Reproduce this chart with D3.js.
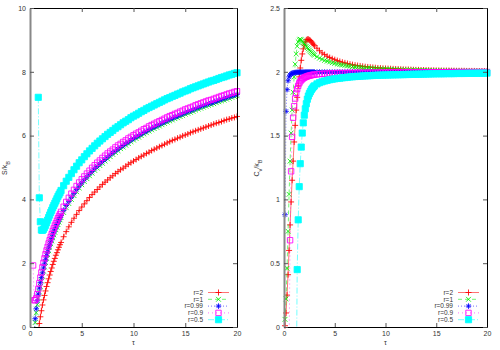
<!DOCTYPE html>
<html>
<head>
<meta charset="utf-8">
<script src="https://cdn.jsdelivr.net/npm/d3@7"></script>
<style>
body { margin: 0; background: #fff; }
text { font-family: "Liberation Sans", Arial, sans-serif; }
</style>
</head>
<body>
<svg id="chart" width="500" height="350"></svg>
<script>
// temperature grid shared by every series
const tau = [
    0.1, 0.2, 0.3, 0.4, 0.5, 0.6, 0.7, 0.8, 0.9, 1.0,
    1.1, 1.2, 1.3, 1.4, 1.5, 1.6, 1.7, 1.8, 1.9, 2.0,
    2.1, 2.2, 2.3, 2.4, 2.5, 2.6, 2.7, 2.8, 2.9, 3.0,
    3.25, 3.5, 3.75, 4, 4.25, 4.5, 4.75, 5, 5.25, 5.5,
    5.75, 6, 6.25, 6.5, 6.75, 7, 7.25, 7.5, 7.75, 8,
    8.25, 8.5, 8.75, 9, 9.25, 9.5, 9.75, 10,
    10.25, 10.5, 10.75, 11, 11.25, 11.5, 11.75, 12, 12.25, 12.5,
    12.75, 13, 13.25, 13.5, 13.75, 14, 14.25, 14.5, 14.75, 15,
    15.25, 15.5, 15.75, 16, 16.25, 16.5, 16.75, 17, 17.25, 17.5,
    17.75, 18, 18.25, 18.5, 18.75, 19, 19.25, 19.5, 19.75, 20
];

// entropy S/kB
const sR2 = [
    null, null, null, null, null, null, null, -0.13, 0.11, 0.32,
    0.51, 0.69, 0.85, 0.99, 1.13, 1.27, 1.39, 1.51, 1.63, 1.74,
    1.85, 1.96, 2.06, 2.15, 2.25, 2.33, 2.42, 2.50, 2.58, 2.65,
    2.83, 2.99, 3.14, 3.28, 3.41, 3.53, 3.65, 3.76, 3.86, 3.96,
    4.06, 4.15, 4.23, 4.31, 4.39, 4.47, 4.54, 4.61, 4.68, 4.74,
    4.81, 4.87, 4.93, 4.98, 5.04, 5.10, 5.15, 5.20,
    5.25, 5.30, 5.35, 5.39, 5.44, 5.48, 5.53, 5.57, 5.61, 5.65,
    5.69, 5.73, 5.77, 5.81, 5.85, 5.88, 5.92, 5.95, 5.99, 6.02,
    6.05, 6.09, 6.12, 6.15, 6.18, 6.21, 6.24, 6.27, 6.30, 6.33,
    6.36, 6.39, 6.41, 6.44, 6.47, 6.50, 6.52, 6.55, 6.57, 6.60
];
const sR1 = [
    null, null, null, -0.32, 0.14, 0.45, 0.70, 0.91, 1.10, 1.27,
    1.44, 1.59, 1.75, 1.88, 2.02, 2.15, 2.27, 2.39, 2.50, 2.61,
    2.70, 2.80, 2.89, 2.97, 3.05, 3.13, 3.21, 3.29, 3.36, 3.43,
    3.59, 3.74, 3.87, 4.00, 4.12, 4.24, 4.36, 4.46, 4.56, 4.65,
    4.74, 4.82, 4.91, 4.98, 5.06, 5.13, 5.20, 5.27, 5.34, 5.41,
    5.47, 5.53, 5.59, 5.64, 5.70, 5.75, 5.81, 5.86,
    5.91, 5.95, 6.00, 6.05, 6.09, 6.14, 6.18, 6.22, 6.26, 6.30,
    6.34, 6.38, 6.42, 6.46, 6.49, 6.53, 6.56, 6.60, 6.63, 6.67,
    6.70, 6.73, 6.76, 6.80, 6.83, 6.86, 6.89, 6.92, 6.95, 6.97,
    7.00, 7.03, 7.06, 7.09, 7.11, 7.14, 7.17, 7.20, 7.23, 7.25
];
const sR099 = [
    null, null, null, -0.2, 0.26, 0.57, 0.82, 1.03, 1.22, 1.39,
    1.55, 1.70, 1.85, 1.98, 2.11, 2.24, 2.36, 2.48, 2.58, 2.69,
    2.78, 2.88, 2.97, 3.05, 3.13, 3.21, 3.29, 3.36, 3.43, 3.50,
    3.66, 3.81, 3.94, 4.07, 4.19, 4.31, 4.42, 4.52, 4.62, 4.71,
    4.80, 4.88, 4.97, 5.04, 5.12, 5.19, 5.26, 5.33, 5.40, 5.46,
    5.52, 5.58, 5.64, 5.69, 5.75, 5.80, 5.86, 5.91,
    5.96, 6.00, 6.05, 6.10, 6.14, 6.19, 6.23, 6.27, 6.31, 6.35,
    6.39, 6.43, 6.47, 6.51, 6.54, 6.58, 6.61, 6.65, 6.68, 6.72,
    6.75, 6.78, 6.81, 6.85, 6.88, 6.91, 6.94, 6.97, 7.00, 7.02,
    7.05, 7.08, 7.11, 7.14, 7.16, 7.19, 7.22, 7.24, 7.27, 7.29
];
const sR09 = [
    null, null, 1.93, 0.84, 0.84, 0.90, 1.03, 1.19, 1.37, 1.55,
    1.71, 1.87, 2.01, 2.15, 2.28, 2.40, 2.51, 2.62, 2.72, 2.82,
    2.91, 3.01, 3.09, 3.18, 3.25, 3.33, 3.41, 3.48, 3.54, 3.61,
    3.77, 3.92, 4.05, 4.18, 4.30, 4.42, 4.53, 4.63, 4.72, 4.81,
    4.90, 4.99, 5.07, 5.15, 5.22, 5.30, 5.37, 5.44, 5.50, 5.56,
    5.63, 5.69, 5.74, 5.80, 5.85, 5.91, 5.96, 6.01,
    6.06, 6.10, 6.15, 6.20, 6.24, 6.29, 6.33, 6.37, 6.41, 6.45,
    6.49, 6.53, 6.57, 6.61, 6.64, 6.68, 6.71, 6.75, 6.78, 6.82,
    6.85, 6.88, 6.91, 6.95, 6.98, 7.01, 7.04, 7.07, 7.10, 7.12,
    7.15, 7.18, 7.21, 7.24, 7.26, 7.29, 7.32, 7.34, 7.37, 7.39
];
const sR05 = [
    null, null, null, null, null, null, null, 7.2, 4.05, 3.3,
    3.04, 3.03, 3.06, 3.12, 3.19, 3.27, 3.35, 3.43, 3.51, 3.59,
    3.66, 3.74, 3.81, 3.88, 3.95, 4.02, 4.09, 4.15, 4.21, 4.28,
    4.43, 4.57, 4.69, 4.81, 4.93, 5.04, 5.15, 5.24, 5.34, 5.43,
    5.52, 5.60, 5.68, 5.76, 5.83, 5.90, 5.97, 6.04, 6.10, 6.16,
    6.23, 6.28, 6.34, 6.40, 6.45, 6.50, 6.56, 6.61,
    6.65, 6.70, 6.75, 6.79, 6.84, 6.88, 6.92, 6.96, 7.00, 7.04,
    7.08, 7.12, 7.16, 7.19, 7.23, 7.26, 7.30, 7.33, 7.37, 7.40,
    7.43, 7.47, 7.50, 7.53, 7.56, 7.59, 7.62, 7.65, 7.68, 7.71,
    7.73, 7.76, 7.79, 7.82, 7.84, 7.87, 7.90, 7.92, 7.95, 7.97
];

// heat capacity Cv/kB
const cR2 = [
    0.01, 0.11, 0.25, 0.41, 0.6, 0.8, 0.98, 1.15, 1.3, 1.45,
    1.58, 1.7, 1.8, 1.89, 1.96, 2.03, 2.09, 2.14, 2.18, 2.21,
    2.235, 2.25, 2.255, 2.255, 2.25, 2.245, 2.235, 2.225, 2.215, 2.205,
    2.185, 2.165, 2.148, 2.135, 2.122, 2.112, 2.103, 2.095, 2.088, 2.081,
    2.075, 2.07, 2.065, 2.06, 2.056, 2.052, 2.049, 2.046, 2.043, 2.04,
    2.038, 2.036, 2.034, 2.032, 2.03, 2.029, 2.027, 2.026,
    2.025, 2.024, 2.023, 2.022, 2.021, 2.02, 2.019, 2.018, 2.018, 2.017,
    2.016, 2.015, 2.015, 2.014, 2.014, 2.013, 2.013, 2.012, 2.012, 2.011,
    2.011, 2.01, 2.01, 2.01, 2.01, 2.009, 2.009, 2.008, 2.008, 2.008,
    2.008, 2.007, 2.007, 2.007, 2.007, 2.006, 2.006, 2.006, 2.006, 2.005
];
const cR1 = [
    0.06, 0.22, 0.46, 0.75, 1.04, 1.3, 1.52, 1.7, 1.84, 1.96,
    2.06, 2.14, 2.2, 2.235, 2.25, 2.255, 2.25, 2.24, 2.23, 2.22,
    2.21, 2.2, 2.19, 2.18, 2.17, 2.16, 2.152, 2.144, 2.137, 2.13,
    2.118, 2.107, 2.098, 2.09, 2.083, 2.077, 2.071, 2.066, 2.061, 2.057,
    2.053, 2.05, 2.046, 2.043, 2.041, 2.038, 2.036, 2.034, 2.032, 2.03,
    2.028, 2.027, 2.025, 2.024, 2.023, 2.022, 2.021, 2.02,
    2.019, 2.018, 2.017, 2.016, 2.016, 2.015, 2.015, 2.014, 2.014, 2.013,
    2.013, 2.012, 2.012, 2.011, 2.011, 2.01, 2.01, 2.009, 2.009, 2.008,
    2.008, 2.008, 2.008, 2.007, 2.007, 2.007, 2.007, 2.006, 2.006, 2.006,
    2.006, 2.005, 2.005, 2.005, 2.005, 2.005, 2.005, 2.004, 2.004, 2.004
];
const cR099 = [
    0.88, 1.69, 1.86, 1.93, 1.96, 1.975, 1.983, 1.988, 1.991, 1.993,
    1.994, 1.995, 1.996, 1.996, 1.997, 1.997, 1.997, 1.997, 1.997, 1.997,
    1.998, 1.998, 1.998, 1.998, 1.998, 1.998, 1.998, 1.998, 1.998, 1.998,
    1.998, 1.998, 1.998, 1.998, 1.998, 1.998, 1.998, 1.998, 1.998, 1.998,
    1.998, 1.998, 1.998, 1.998, 1.998, 1.998, 1.998, 1.998, 1.998, 1.998,
    1.999, 1.999, 1.999, 1.999, 1.999, 1.999, 1.999, 1.999,
    1.999, 1.999, 1.999, 1.999, 1.999, 1.999, 1.999, 1.999, 1.999, 1.999,
    1.999, 1.999, 1.999, 1.999, 1.999, 1.999, 1.999, 1.999, 1.999, 1.999,
    2.0, 2.0, 2.0, 2.0, 2.0, 2.0, 2.0, 2.0, 2.0, 2.0,
    2.0, 2.0, 2.0, 2.0, 2.0, 2.0, 2.0, 2.0, 2.0, 2.0
];
const cR09 = [
    null, null, null, null, -0.2, 0.68, 1.22, 1.49, 1.64, 1.73,
    1.79, 1.835, 1.865, 1.89, 1.91, 1.925, 1.935, 1.943, 1.95, 1.955,
    1.959, 1.962, 1.965, 1.968, 1.97, 1.972, 1.974, 1.976, 1.977, 1.978,
    1.98, 1.982, 1.984, 1.985, 1.986, 1.987, 1.988, 1.989, 1.99, 1.99,
    1.99, 1.99, 1.991, 1.991, 1.991, 1.991, 1.992, 1.992, 1.992, 1.992,
    1.993, 1.993, 1.993, 1.993, 1.994, 1.994, 1.994, 1.994,
    1.994, 1.995, 1.995, 1.995, 1.995, 1.995, 1.995, 1.996, 1.996, 1.996,
    1.996, 1.996, 1.996, 1.996, 1.997, 1.997, 1.997, 1.997, 1.997, 1.997,
    1.997, 1.997, 1.997, 1.997, 1.998, 1.998, 1.998, 1.998, 1.998, 1.998,
    1.998, 1.998, 1.998, 1.998, 1.998, 1.998, 1.998, 1.998, 1.998, 1.998
];
const cR05 = [
    null, null, null, null, null, null, null, null, null, null,
    null, -0.6, 0.45, 0.84, 1.1, 1.28, 1.41, 1.52, 1.6, 1.66,
    1.71, 1.75, 1.785, 1.81, 1.83, 1.845, 1.86, 1.872, 1.882, 1.89,
    1.905, 1.915, 1.922, 1.928, 1.933, 1.938, 1.942, 1.945, 1.948, 1.95,
    1.953, 1.955, 1.957, 1.96, 1.961, 1.963, 1.964, 1.965, 1.967, 1.968,
    1.969, 1.97, 1.971, 1.972, 1.973, 1.974, 1.974, 1.975,
    1.975, 1.976, 1.976, 1.977, 1.977, 1.978, 1.978, 1.979, 1.979, 1.98,
    1.98, 1.981, 1.981, 1.982, 1.982, 1.983, 1.983, 1.984, 1.984, 1.985,
    1.985, 1.985, 1.985, 1.986, 1.986, 1.986, 1.986, 1.987, 1.987, 1.987,
    1.987, 1.988, 1.988, 1.988, 1.988, 1.989, 1.989, 1.989, 1.989, 1.99
];

const labels = ["r=2", "r=1", "r=0.99", "r=0.9", "r=0.5"];
const xTicks = [0, 5, 10, 15, 20];
const sTicks = [0, 2, 4, 6, 8, 10];
const cTicks = [0, 0.5, 1, 1.5, 2, 2.5];

const colors = ["#ff0000", "#00ee00", "#0000ff", "#ff00ff", "#00ffff"];
const dashes = [null, "4,3", "1,2", "1,3", "6,2,1,2"];
const shapes = ["plus", "cross", "star", "box", "fbox"];

const svg = d3.select("#chart");

// gnuplot-like point symbols
function symbolPath(shape) {
    let s = 2.7;
    if (shape == "plus") {
        s = 3;
        return `M${-s},0H${s}M0,${-s}V${s}`;
    }
    if (shape == "cross") {
        s = 2.4;
        return `M${-s},${-s}L${s},${s}M${-s},${s}L${s},${-s}`;
    }
    if (shape == "star") return "M-2.8,0H2.8M0,-2.8V2.8M-2,-2L2,2M-2,2L2,-2";
    if (shape == "fbox") s = 3.1;
    return `M${-s},${-s}H${s}V${s}H${-s}Z`;
}

function drawPoint(g, shape, color, x, y) {
    g.append("path")
        .attr("transform", `translate(${x},${y})`)
        .attr("d", symbolPath(shape))
        .attr("fill", shape == "fbox" ? color : "none")
        .attr("stroke", color)
        .attr("stroke-opacity", 0.85)
        .attr("stroke-width", 1);
}

function drawPanel(p) {
    let x = d3.scaleLinear().domain([0, 20]).range([p.left, p.right]);
    let y = d3.scaleLinear().domain([0, p.yMax]).range([327, 8]);
    let g = svg.append("g");

    g.append("clipPath").attr("id", p.id)
        .append("rect")
        .attr("x", p.left).attr("y", 8)
        .attr("width", p.right - p.left).attr("height", 319);

    p.series.forEach(function (vals, i) {
        let pts = tau.map((t, j) => ({t: t, v: vals[j]}));
        let line = d3.line()
            .defined(d => d.v != null)
            .x(d => x(d.t))
            .y(d => y(d.v));
        g.append("path")
            .datum(pts)
            .attr("clip-path", `url(#${p.id})`)
            .attr("d", line)
            .attr("fill", "none")
            .attr("stroke", colors[i])
            .attr("stroke-opacity", 0.55)
            .attr("stroke-width", 1)
            .attr("stroke-dasharray", dashes[i]);
        let pg = g.append("g");
        pts.filter(d => d.v != null && d.v >= 0 && d.v <= p.yMax)
            .forEach(d => drawPoint(pg, shapes[i], colors[i], x(d.t), y(d.v)));
    });

    // frame with inward ticks on all four sides
    let bottom = g.append("g").attr("transform", "translate(0,327)")
        .call(d3.axisBottom(x).tickValues(xTicks).tickSize(-4).tickSizeOuter(0).tickPadding(4));
    let top = g.append("g").attr("transform", "translate(0,8)")
        .call(d3.axisTop(x).tickValues(xTicks).tickSize(-4).tickSizeOuter(0).tickFormat(""));
    let leftAx = g.append("g").attr("transform", `translate(${p.left},0)`)
        .call(d3.axisLeft(y).tickValues(p.yTicks).tickSize(-4).tickSizeOuter(0).tickPadding(4)
            .tickFormat(d => String(d)));
    let rightAx = g.append("g").attr("transform", `translate(${p.right},0)`)
        .call(d3.axisRight(y).tickValues(p.yTicks).tickSize(-4).tickSizeOuter(0).tickFormat(""));

    [bottom, top, leftAx, rightAx].forEach(function (a) {
        a.select(".domain").attr("stroke", "#000");
        a.selectAll(".tick line").attr("stroke", "#555");
        a.selectAll("text").attr("fill", "#333").style("font-size", "7px")
            .style("font-family", "'Liberation Sans', Arial, sans-serif");
    });
    leftAx.select(".domain").attr("stroke", "#888").attr("stroke-width", 2);

    g.append("text")
        .attr("x", (p.left + p.right) / 2).attr("y", 345)
        .attr("text-anchor", "middle")
        .attr("fill", "#333").style("font-size", "7px")
        .text("τ");

    let yl = g.append("text")
        .attr("transform", `translate(${p.labelX},168) rotate(-90)`)
        .attr("text-anchor", "middle")
        .attr("fill", "#333").style("font-size", "7px");
    p.yLabel.forEach(function (part) {
        yl.append("tspan")
            .attr("baseline-shift", part.sub ? "sub" : null)
            .style("font-size", part.sub ? "5.5px" : null)
            .text(part.t);
    });

    // legend, bottom right
    let rows = [292.5, 299.3, 306.1, 312.9, 319.7];
    labels.forEach(function (lab, i) {
        let lx = p.right - 34;
        g.append("text")
            .attr("x", lx).attr("y", rows[i] + 2.3)
            .attr("text-anchor", "end")
            .attr("fill", "#333").style("font-size", "6.5px")
            .text(lab);
        g.append("line")
            .attr("x1", lx + 5).attr("x2", lx + 26)
            .attr("y1", rows[i]).attr("y2", rows[i])
            .attr("stroke", colors[i]).attr("stroke-opacity", 0.55)
            .attr("stroke-dasharray", dashes[i]);
        drawPoint(g, shapes[i], colors[i], lx + 15.5, rows[i]);
    });
}

drawPanel({
    id: "clipS", left: 30, right: 237, yMax: 10, yTicks: sTicks,
    series: [sR2, sR1, sR099, sR09, sR05], labelX: 7,
    yLabel: [{t: "S/k"}, {t: "B", sub: true}]
});
drawPanel({
    id: "clipC", left: 284, right: 487, yMax: 2.5, yTicks: cTicks,
    series: [cR2, cR1, cR099, cR09, cR05], labelX: 259,
    yLabel: [{t: "C"}, {t: "v", sub: true}, {t: "/k"}, {t: "B", sub: true}]
});
</script>
</body>
</html>
